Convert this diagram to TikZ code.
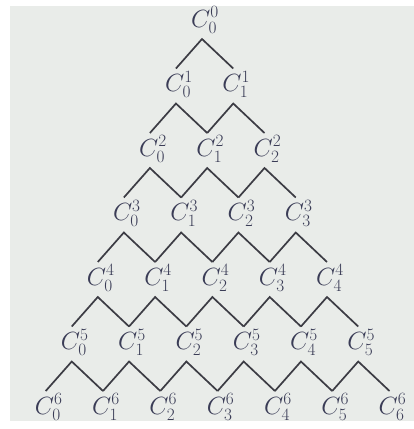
\documentclass[tikz,border=0pt]{standalone}
\usetikzlibrary{calc}
\definecolor{paper}{RGB}{233,236,233}
\definecolor{ink}{RGB}{58,60,86}
\definecolor{linec}{RGB}{60,60,68}
\tikzset{
  coef/.style={inner sep=0pt, text=ink, font=\fontsize{26}{28}\selectfont},
  edge/.style={draw=linec, line width=1.7pt, line join=miter},
}
\begin{document}
\begin{tikzpicture}[x=1pt,y=-1pt]
\useasboundingbox (0,0) rectangle (414,429);
\fill[white] (0,0) rectangle (414,429);
\fill[paper] (10,6) rectangle (414,421);
\foreach \n in {0,...,6}{
  \foreach \k in {0,...,\n}{
    \pgfmathsetmacro{\xx}{205+2.6*\n+57.3*(\k-\n/2)}
    \pgfmathsetmacro{\yy}{20+64.5*\n}
    \node[coef] (c\n\k) at (\xx,\yy) {$C_{\k}^{\n}$};
  }
}
\foreach \n in {0,...,5}{
  \pgfmathtruncatemacro{\m}{\n+1}
  \foreach \k in {0,...,\n}{
    \pgfmathtruncatemacro{\j}{\k+1}
    \draw[edge] ([shift={(-3,-16)}]c\m\k.center) -- ([shift={(-3,19)}]c\n\k.center) -- ([shift={(-3,-16)}]c\m\j.center);
  }
}
\end{tikzpicture}
\end{document}
